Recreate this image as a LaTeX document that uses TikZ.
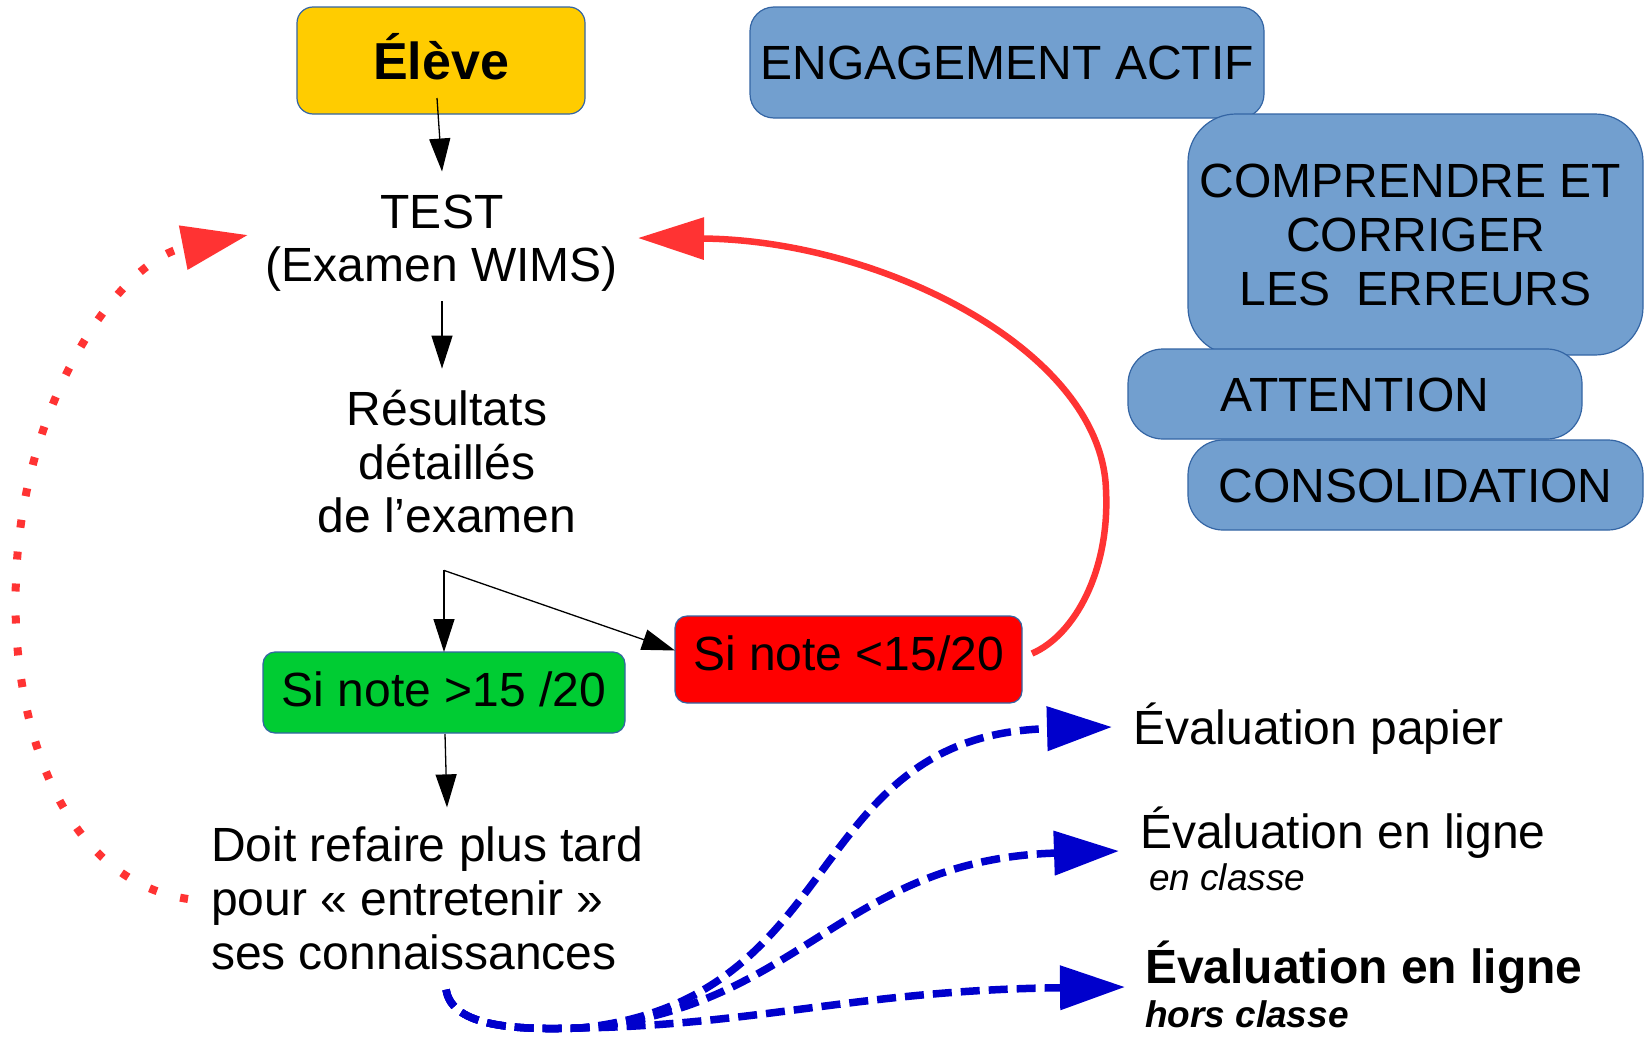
\documentclass[tikz,border=0pt]{standalone}
\usepackage{fontspec}
\setmainfont{Liberation Sans}
\usetikzlibrary{arrows.meta,calc}
\definecolor{gold}{HTML}{FFCC00}
\definecolor{boxblue}{HTML}{729FCF}
\definecolor{boxline}{HTML}{3465A4}
\definecolor{boxgreen}{HTML}{00CC33}
\definecolor{boxred}{HTML}{FF0000}
\definecolor{loopred}{HTML}{FF3333}
\definecolor{dashblue}{HTML}{0000CC}
\newcommand\fbig{\fontsize{48bp}{54bp}\selectfont}
\newcommand\fmid{\fontsize{48bp}{53.5bp}\selectfont}
\newcommand\fsm{\fontsize{37bp}{42bp}\selectfont}
\newcommand\fel{\fontsize{52bp}{58bp}\selectfont\bfseries}
\begin{document}
\begin{tikzpicture}[x=1bp,y=-1bp,
  every node/.style={inner sep=0pt, outer sep=0pt},
  boxbase/.style={draw=boxline, line width=1.2bp, align=center, font=\fbig},
  bluebox/.style={boxbase, fill=boxblue},
  capline/.style={text height=34.5bp, text depth=0bp},
  plain/.style={font=\fmid, align=center},
  blackarrow/.style={draw=black, line width=1.3bp, -{Triangle[length=33bp,width=21bp]}},
  redloop/.style={draw=loopred, line width=6.5bp, -{Triangle[length=66bp,width=41bp]}},
  reddots/.style={draw=loopred, line width=8bp, dash pattern=on 8bp off 24bp, -{Triangle[length=66bp,width=43bp]}},
  bluedash/.style={draw=dashblue, line width=7.5bp, dash pattern=on 19bp off 9bp, -{Triangle[length=65bp,width=43bp]}},
]
\useasboundingbox[fill=white] (0,0) rectangle (1652,1049);

% right column of blue boxes
\node[bluebox, rounded corners=24bp, minimum width=514bp, minimum height=111bp, capline] (engage) at (1007,62.5) {ENGAGEMENT ACTIF};
\node[bluebox, rounded corners=48bp, minimum width=455bp, minimum height=241bp] (compr) at (1415.5,234.5) {COMPRENDRE ET\hspace*{10bp}\\CORRIGER\hspace*{10bp}\\LES\ \ ERREURS};
\node[bluebox, rounded corners=35bp, minimum width=454bp, minimum height=90bp, capline] (attn) at (1355,394) {ATTENTION};
\node[bluebox, rounded corners=35bp, minimum width=455bp, minimum height=90bp, capline] (conso) at (1415.5,485) {CONSOLIDATION};

% left flow
\node[boxbase, fill=gold, rounded corners=16bp, minimum width=288bp, minimum height=107bp, font=\fel, text height=37bp, text depth=0bp] (eleve) at (441,60.5) {Élève};
\node[plain] (test) at (442,243) {TEST\\(Examen WIMS)};
\node[plain] (res) at (447,462) {Résultats\\détaillés\\de l’examen};
\node[boxbase, fill=boxgreen, rounded corners=12bp, minimum width=362bp, minimum height=81bp, text height=34.5bp, text depth=6bp] (green) at (444,692.5) {Si note >15 /20};
\node[boxbase, fill=boxred, rounded corners=12bp, minimum width=347bp, minimum height=87bp, text height=34.5bp, text depth=13bp] (red) at (848.5,659.5) {Si note <15/20};
\node[font=\fbig, align=left, anchor=west] (doit) at (211,898) {Doit refaire plus tard\\pour « entretenir »\\ses connaissances};

% evaluation labels
\node[font=\fmid, anchor=base west] (evalA) at (1133,744) {Évaluation papier};
\node[font=\fmid, anchor=base west] (evalB) at (1140,848) {Évaluation en ligne};
\node[font=\fsm\itshape, anchor=base west] (evalBs) at (1149,890) {en classe};
\node[font=\fbig\bfseries, anchor=base west] (evalC) at (1145,983) {Évaluation en ligne};
\node[font=\fsm\bfseries\itshape, anchor=base west] (evalCs) at (1145,1027) {hors classe};

% black arrows
\draw[blackarrow] ($(eleve.south)+(-4,-16)$) -- ($(test.north)+(0,-23)$);
\draw[blackarrow] ($(test.south)+(0,10)$) -- ($(res.north)+(-5,-22)$);
\coordinate (fork) at ($(res.south)+(-3,37)$);
\draw[blackarrow] (fork) -- (green.north);
\draw[blackarrow] (fork) -- ($(red.west)+(0,-9)$);
\draw[blackarrow] ($(green.south)+(1,1)$) -- ($(doit.north west)+(236,-19)$);

% red return loop
\draw[redloop] ($(red.east)+(10,-6)$) .. controls (1075,635) and (1110,570) .. (1106,490)
  .. controls (1102,350) and (880,240) .. ($(test.east)+(20,-5)$);

% red dotted loop
\draw[reddots] ($(doit.west)+(-23,1)$) .. controls (60,880) and (10,720) .. (16,580)
  .. controls (22,400) and (120,260) .. ($(test.west)+(-18,-8)$);

% blue dashed arrows
\coordinate (bstart) at ($(doit.south)+(19,20)$);
\draw[bluedash] (bstart) .. controls (452,1028) and (520,1030) .. (580,1028)
  .. controls (850,1000) and (800,735) .. ($(evalA.base west)+(-21,-17)$);
\draw[bluedash] (bstart) .. controls (452,1028) and (520,1030) .. (580,1028)
  .. controls (800,1010) and (840,860) .. ($(evalB.base west)+(-21,3)$);
\draw[bluedash] (bstart) .. controls (452,1028) and (520,1030) .. (580,1028)
  .. controls (760,1025) and (860,990) .. ($(evalC.base west)+(-20,4)$);
\end{tikzpicture}
\end{document}
